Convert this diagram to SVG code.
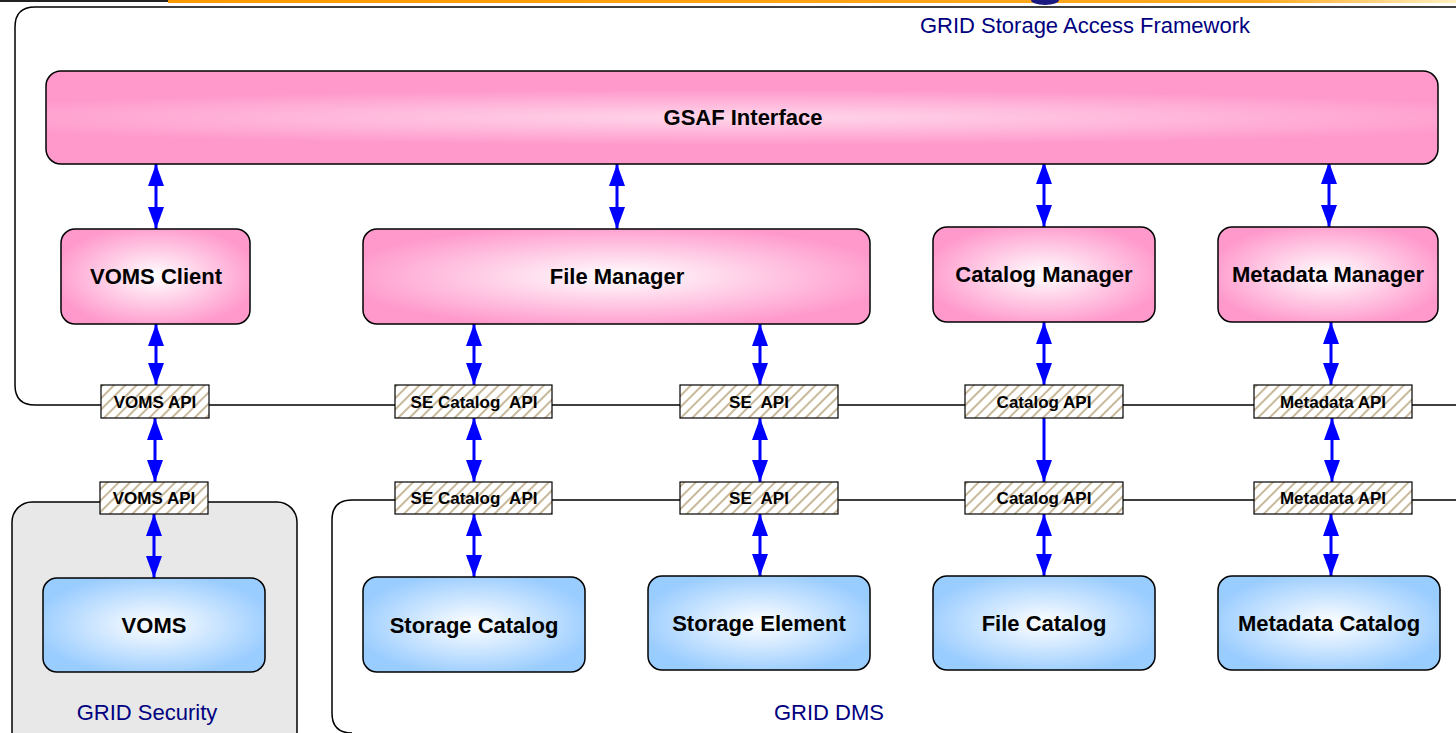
<svg xmlns="http://www.w3.org/2000/svg" width="1456" height="733" viewBox="0 0 1456 733">
<defs>
<radialGradient id="pink" cx="50%" cy="50%" r="55%">
<stop offset="0" stop-color="#ffffff"/>
<stop offset="1" stop-color="#ff99cc"/>
</radialGradient>
<radialGradient id="pinkWide" cx="50%" cy="50%" r="60%" gradientTransform="translate(0.5 0.5) scale(1 0.5) translate(-0.5 -0.5)">
<stop offset="0" stop-color="#ffd6ea"/>
<stop offset="1" stop-color="#ff99cc"/>
</radialGradient>
<radialGradient id="blue" cx="50%" cy="50%" r="55%">
<stop offset="0" stop-color="#ffffff"/>
<stop offset="1" stop-color="#99ccff"/>
</radialGradient>
<linearGradient id="topbar" x1="0" y1="0" x2="1" y2="0">
<stop offset="0" stop-color="#ff9900"/>
<stop offset="0.85" stop-color="#ffaa22"/>
<stop offset="1" stop-color="#fff0c0"/>
</linearGradient>
<pattern id="hatch" width="8" height="8" patternUnits="userSpaceOnUse" patternTransform="rotate(45)">
<rect width="8" height="8" fill="#ffffff"/>
<rect x="0" y="0" width="2" height="8" fill="#c9b99b"/>
</pattern>
<marker id="ah" viewBox="0 0 22 16" refX="22" refY="8" markerWidth="22" markerHeight="16" markerUnits="userSpaceOnUse" orient="auto-start-reverse">
<path d="M0,0 L22,8 L0,16 z" fill="#0000ff"/>
</marker>
<style>
.frame{fill:none;stroke:#000;stroke-width:1.5}
.pn{fill:url(#pink);stroke:#000;stroke-width:1.5}
.bn{fill:url(#blue);stroke:#000;stroke-width:1.5}
.api{fill:url(#hatch);stroke:#000;stroke-width:1.2}
.nt{font-family:"Liberation Sans",Arial,sans-serif;font-weight:bold;font-size:22px;fill:#000;text-anchor:middle}
.at{font-family:"Liberation Sans",Arial,sans-serif;font-weight:bold;font-size:17px;fill:#000;text-anchor:middle;white-space:pre}
.gt{font-family:"Liberation Sans",Arial,sans-serif;font-size:22px;fill:#000080;text-anchor:middle}
.ar{stroke:#0000ff;stroke-width:3;fill:none}
</style>
</defs>

<g id="topbar">
<rect x="0" y="0" width="168" height="2" fill="#222"/>
<rect x="168" y="0" width="1288" height="3" fill="url(#topbar)"/>
<ellipse cx="1045" cy="0" rx="14" ry="5" fill="#1a1a80"/>
</g>

<g id="grid-security">
<rect x="12" y="502" width="285" height="250" rx="20" fill="#e8e8e8" stroke="#000" stroke-width="1.5"/>
<text class="gt" x="147" y="720">GRID Security</text>
</g>

<g id="grid-dms">
<path class="frame" d="M1460,500 H352 Q332,500 332,520 V713 Q332,733 352,733"/>
<text class="gt" x="829" y="720">GRID DMS</text>
</g>

<g id="gsaf-frame">
<path class="frame" d="M1460,7 H35 Q15,7 15,27 V385 Q15,405 35,405 H1460"/>
<text class="gt" x="1085" y="33">GRID Storage Access Framework</text>
</g>

<g id="connectors">
<line class="ar" x1="156" y1="164" x2="156" y2="229" marker-start="url(#ah)" marker-end="url(#ah)"/>
<line class="ar" x1="617" y1="164" x2="617" y2="229" marker-start="url(#ah)" marker-end="url(#ah)"/>
<line class="ar" x1="1044" y1="162" x2="1044" y2="227" marker-start="url(#ah)" marker-end="url(#ah)"/>
<line class="ar" x1="1329" y1="162" x2="1329" y2="227" marker-start="url(#ah)" marker-end="url(#ah)"/>

<line class="ar" x1="156" y1="324" x2="156" y2="385" marker-start="url(#ah)" marker-end="url(#ah)"/>
<line class="ar" x1="474" y1="324" x2="474" y2="385" marker-start="url(#ah)" marker-end="url(#ah)"/>
<line class="ar" x1="760" y1="324" x2="760" y2="385" marker-start="url(#ah)" marker-end="url(#ah)"/>
<line class="ar" x1="1044" y1="322" x2="1044" y2="385" marker-start="url(#ah)" marker-end="url(#ah)"/>
<line class="ar" x1="1331" y1="322" x2="1331" y2="385" marker-start="url(#ah)" marker-end="url(#ah)"/>

<line class="ar" x1="155" y1="418" x2="155" y2="482" marker-start="url(#ah)" marker-end="url(#ah)"/>
<line class="ar" x1="474" y1="418" x2="474" y2="482" marker-start="url(#ah)" marker-end="url(#ah)"/>
<line class="ar" x1="760" y1="418" x2="760" y2="482" marker-start="url(#ah)" marker-end="url(#ah)"/>
<line class="ar" x1="1044" y1="418" x2="1044" y2="482" marker-end="url(#ah)"/>
<line class="ar" x1="1332" y1="418" x2="1332" y2="482" marker-start="url(#ah)" marker-end="url(#ah)"/>

<line class="ar" x1="154" y1="514" x2="154" y2="578" marker-start="url(#ah)" marker-end="url(#ah)"/>
<line class="ar" x1="474" y1="514" x2="474" y2="577" marker-start="url(#ah)" marker-end="url(#ah)"/>
<line class="ar" x1="760" y1="514" x2="760" y2="576" marker-start="url(#ah)" marker-end="url(#ah)"/>
<line class="ar" x1="1044" y1="514" x2="1044" y2="576" marker-start="url(#ah)" marker-end="url(#ah)"/>
<line class="ar" x1="1331" y1="514" x2="1331" y2="576" marker-start="url(#ah)" marker-end="url(#ah)"/>
</g>

<g id="gsaf-interface">
<rect x="46" y="71" width="1392" height="93" rx="15" fill="url(#pinkWide)" stroke="#000" stroke-width="1.5"/>
<text class="nt" x="743" y="125">GSAF Interface</text>
</g>

<g id="voms-client">
<rect class="pn" x="61" y="229" width="189" height="95" rx="14"/>
<text class="nt" x="156" y="284">VOMS Client</text>
</g>
<g id="file-manager">
<rect class="pn" x="363" y="229" width="507" height="95" rx="14"/>
<text class="nt" x="617" y="284">File Manager</text>
</g>
<g id="catalog-manager">
<rect class="pn" x="933" y="227" width="222" height="95" rx="14"/>
<text class="nt" x="1044" y="282">Catalog Manager</text>
</g>
<g id="metadata-manager">
<rect class="pn" x="1218" y="227" width="220" height="95" rx="14"/>
<text class="nt" x="1328" y="282">Metadata Manager</text>
</g>

<g id="api-upper">
<rect class="api" x="101" y="385" width="108" height="33"/>
<text class="at" x="155" y="408">VOMS API</text>
<rect class="api" x="395" y="385" width="157" height="33"/>
<text class="at" x="474" y="408">SE Catalog  API</text>
<rect class="api" x="680" y="385" width="158" height="33"/>
<text class="at" x="759" y="408">SE  API</text>
<rect class="api" x="965" y="385" width="158" height="33"/>
<text class="at" x="1044" y="408">Catalog API</text>
<rect class="api" x="1254" y="385" width="158" height="33"/>
<text class="at" x="1333" y="408">Metadata API</text>
</g>

<g id="api-lower">
<rect class="api" x="100" y="482" width="108" height="32"/>
<text class="at" x="154" y="504">VOMS API</text>
<rect class="api" x="395" y="482" width="157" height="32"/>
<text class="at" x="474" y="504">SE Catalog  API</text>
<rect class="api" x="680" y="482" width="158" height="32"/>
<text class="at" x="759" y="504">SE  API</text>
<rect class="api" x="965" y="482" width="158" height="32"/>
<text class="at" x="1044" y="504">Catalog API</text>
<rect class="api" x="1254" y="482" width="158" height="32"/>
<text class="at" x="1333" y="504">Metadata API</text>
</g>

<g id="voms">
<rect class="bn" x="43" y="578" width="222" height="94" rx="14"/>
<text class="nt" x="154" y="633">VOMS</text>
</g>
<g id="storage-catalog">
<rect class="bn" x="363" y="577" width="222" height="95" rx="14"/>
<text class="nt" x="474" y="633">Storage Catalog</text>
</g>
<g id="storage-element">
<rect class="bn" x="648" y="576" width="222" height="94" rx="14"/>
<text class="nt" x="759" y="631">Storage Element</text>
</g>
<g id="file-catalog">
<rect class="bn" x="933" y="576" width="222" height="94" rx="14"/>
<text class="nt" x="1044" y="631">File Catalog</text>
</g>
<g id="metadata-catalog">
<rect class="bn" x="1218" y="576" width="222" height="94" rx="14"/>
<text class="nt" x="1329" y="631">Metadata Catalog</text>
</g>
</svg>
